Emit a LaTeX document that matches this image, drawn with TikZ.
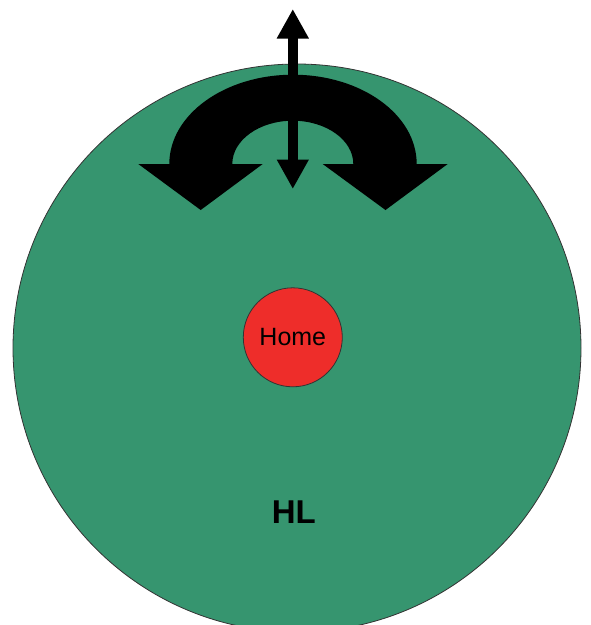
\documentclass[tikz,border=0pt]{standalone}
\usepackage{fontspec}
\setmainfont{Liberation Sans}
\usetikzlibrary{arrows.meta}
\definecolor{hlgreen}{RGB}{54,149,111}
\definecolor{homered}{RGB}{238,45,42}
\begin{document}
\begin{tikzpicture}[x=1pt,y=-1pt,
    zone/.style={circle,draw=black!80,line width=0.8pt,inner sep=0pt},
    turn/.style={fill=black},
    updown/.style={line width=9.5pt,{Triangle[width=30pt,length=29.5pt]}-{Triangle[width=30pt,length=29.5pt]}}]
            \path[use as bounding box,clip] (0,0) rectangle (591,625);
            \node[zone,fill=hlgreen,minimum size=568pt] (hl) at (297,348) {};
            \node[zone,fill=homered,minimum size=99pt,font=\fontsize{25}{30}\selectfont] (home) at (292.8,337.3) {Home};
            \node[font=\bfseries\fontsize{33}{40}\selectfont] (hllabel) at (293.8,512.5) {HL};
            \fill[turn] (138.3,164) -- (200.7,210) -- (262.7,164) -- (232.3,164)
                arc[start angle=180,end angle=360,x radius=60.5,y radius=43.3]
                -- (322.7,164) -- (385.5,210) -- (447.7,164) -- (416.7,164)
                arc[start angle=0,end angle=-180,x radius=123.7,y radius=89.3] -- cycle;
            \coordinate (top) at (292.8,9);
            \coordinate (bottom) at (292.8,189);
            \draw[updown] (top) -- (bottom);
\end{tikzpicture}
\end{document}
